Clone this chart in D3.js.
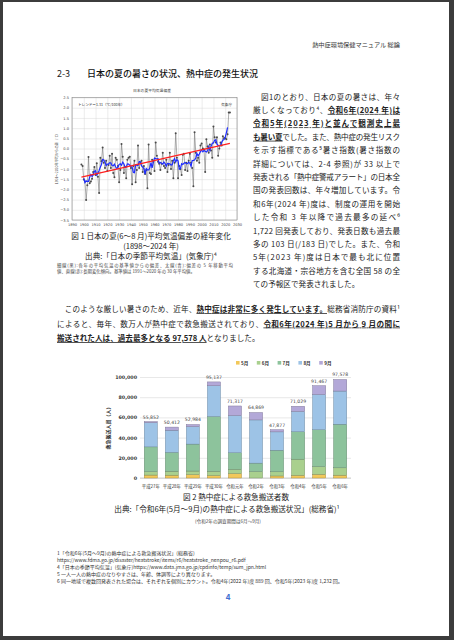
<!DOCTYPE html>
<html>
<head>
<meta charset="utf-8">
<script src="https://cdn.jsdelivr.net/npm/d3@7"></script>
<style>
  html, body { margin: 0; padding: 0; background: #3c3c3c; }
  svg { display: block; font-family: "Noto Sans CJK JP", "Noto Sans", sans-serif; }
  .u { text-decoration: underline; font-weight: 700; }
</style>
</head>
<body>
<svg id="page"></svg>
<script>
// ---- Figure 1 data: Japan summer (JJA) mean temperature anomaly, 1898-2024 ----
const TEMP_YEARS = d3.range(1898, 2025);
const TEMP_ANOM = [
  -0.78, -0.86, -1.52, -1.62, -2.52, -1.80, -0.42, -1.70, -1.62, -1.48,
  -1.15, -0.90, -1.30, -0.72, -1.38, -2.18, -0.45, -0.62, 0.05, -0.70,
  -0.95, -0.60, -1.10, -0.80, -0.35, -0.95, -0.25, -1.20, -1.40, -0.45,
  -0.55, -0.85, -1.65, -1.05, 0.22, -0.40, -1.20, -0.90, -1.45, -0.55,
  -0.45, -0.40, -0.95, -1.75, -0.85, -0.60, -1.65, -1.05, 0.15, -0.95,
  -0.70, -0.60, -1.15, -0.85, -1.25, -1.05, -1.95, 0.20, -1.20, -1.25,
  -0.55, -0.65, -1.10, 0.30, -0.35, -0.65, -0.75, -1.05, -0.75, -0.20,
  -0.85, -0.95, -0.55, -1.15, -0.80, -0.20, -1.00, -0.60, -1.45, -0.70,
  0.75, -0.45, -1.45, -0.85, -1.00, -1.30, -0.30, -0.25, -1.05, -0.70,
  -1.10, -0.60, -0.25, -0.70, -0.95, -1.85, 0.80, -0.20, -0.60, -0.45,
  -0.70, 0.15, 0.25, 0.00, -0.05, -1.15, 0.45, 0.10, -0.20, 0.20,
  -0.10, -0.45, 1.08, 0.55, 0.30, 0.55, -0.35, 0.00, 0.30, 0.15,
  0.60, 0.50, 0.50, 0.45, 0.70, 1.76, 1.76
];
const TREND_ENDS = [-1.40, 0.25];   // straight red line at 1898 and 2024
const TEMP_YTICKS = [2.5, 2.0, 1.5, 1.0, 0.5, 0.0, -0.5, -1.0, -1.5, -2.0, -2.5, -3.0, -3.5];
const TEMP_XTICKS = [1890, 1900, 1910, 1920, 1930, 1940, 1950, 1960, 1970, 1980, 1990, 2000, 2010, 2020, 2030];

// ---- Figure 2 data: heatstroke ambulance transports, May-Sep ----
const FY_LABELS = ['平成27年', '平成28年', '平成29年', '平成30年', '令和元年', '令和2年', '令和3年', '令和4年', '令和5年', '令和6年'];
const MONTHS = ['5月', '6月', '7月', '8月', '9月'];
const MAY = [2904, 2788, 3401, 2504, 4448, 0, 2012, 2668, 3647, 2799];
const JUN = [3357, 3950, 3481, 4151, 4151, 6336, 4122, 15969, 7584, 7275];
const JUL = [24567, 18671, 26702, 54220, 16431, 8388, 21372, 27190, 36549, 43195];
const AUG = [23925, 21934, 17302, 30410, 36755, 42789, 18167, 20029, 34835, 32806];
const SEP = [1099, 3069, 2098, 3852, 9532, 7356, 2204, 5173, 8852, 11503];
const TOTALS = [55852, 50412, 52984, 95137, 71317, 64869, 47877, 71029, 91467, 97578];
const BAR_YTICKS = [0, 20000, 40000, 60000, 80000, 100000];

const MONTH_COLORS = ['#f2c85a', '#a9d08e', '#8dc39c', '#9dc3e6', '#b3a8d8'];

const svg = d3.select('#page').attr('width', 454).attr('height', 640);
svg.append('rect').attr('x', 3).attr('y', 2).attr('width', 446).attr('height', 634).attr('fill', '#fff');

// text line helper: parts = [[text, bold/underline?], ...]
function textLine(x, y, parts, size, opts = {}) {
  const t = svg.append('text')
    .attr('x', x).attr('y', y)
    .attr('font-size', size)
    .attr('fill', opts.fill || '#222')
    .attr('text-anchor', opts.anchor || 'start');
  if (opts.width) t.attr('textLength', opts.width).attr('lengthAdjust', 'spacing');
  if (opts.weight) t.attr('font-weight', opts.weight);
  parts.forEach(p => {
    const s = t.append('tspan').text(p[0]);
    if (p[1]) s.attr('class', 'u');
  });
  return t;
}

// header + section title
textLine(400, 47, [['熱中症環境保健マニュアル 総論']], 6.2, {anchor: 'end', fill: '#333'});
textLine(57, 76.5, [['2-3']], 9, {fill: '#222'});
textLine(87, 76.5, [['日本の夏の暑さの状況、熱中症の発生状況']], 9, {fill: '#111', weight: 500});

// ================= Figure 1 =================
const x1 = d3.scaleLinear([1890, 2030], [72, 237]);
const y1 = d3.scaleLinear([-3.5, 2.5], [220, 97.5]);
const g1 = svg.append('g');

g1.append('text').attr('x', 152).attr('y', 92).attr('font-size', 3.8)
  .attr('text-anchor', 'middle').attr('fill', '#333').text('日本の夏平均気温偏差');

g1.append('g').attr('transform', 'translate(72,0)')
  .call(d3.axisLeft(y1).tickValues(TEMP_YTICKS).tickSize(-(237 - 72)).tickPadding(3).tickFormat(d3.format('.1f')))
  .call(g => g.select('.domain').remove())
  .call(g => g.selectAll('line').attr('stroke', '#d8d8d8').attr('stroke-width', 0.5))
  .call(g => g.selectAll('text').attr('font-size', 3.6).attr('fill', '#444').attr('font-family', 'DejaVu Sans'));

g1.append('g').attr('transform', 'translate(0,220)')
  .call(d3.axisBottom(x1).tickValues(TEMP_XTICKS).tickSize(-(220 - 97.5)).tickPadding(3).tickFormat(d3.format('d')))
  .call(g => g.select('.domain').remove())
  .call(g => g.selectAll('line').attr('stroke', '#d8d8d8').attr('stroke-width', 0.5))
  .call(g => g.selectAll('text').attr('font-size', 3.6).attr('fill', '#444').attr('font-family', 'DejaVu Sans'));

g1.append('rect').attr('x', 72).attr('y', 97.5).attr('width', 165).attr('height', 122.5)
  .attr('fill', 'none').attr('stroke', '#888').attr('stroke-width', 0.6);

g1.append('text').attr('transform', 'translate(58,158) rotate(-90)')
  .attr('font-size', 3.4).attr('text-anchor', 'middle').attr('fill', '#444')
  .text('1991〜2020年平均からの差（℃）');

g1.append('text').attr('x', 78).attr('y', 105.5).attr('font-size', 3.6).attr('fill', '#333')
  .text('トレンド＝1.31（℃/100年）');
g1.append('text').attr('x', 232).attr('y', 105.5).attr('font-size', 3.6).attr('fill', '#333')
  .attr('text-anchor', 'end').text('気象庁');

const tempRows = TEMP_YEARS.map((yr, i) => ({yr, v: TEMP_ANOM[i]}));

g1.append('path').datum(tempRows)
  .attr('fill', 'none').attr('stroke', '#6a6a6a').attr('stroke-width', 0.55)
  .attr('d', d3.line().x(d => x1(d.yr)).y(d => y1(d.v)));

g1.selectAll('circle.pt').data(tempRows).enter().append('circle')
  .attr('class', 'pt')
  .attr('cx', d => x1(d.yr)).attr('cy', d => y1(d.v)).attr('r', 1)
  .attr('fill', '#4a4a4a');

// 5-year running mean of the plotted anomalies (blue)
const runMean = tempRows.slice(2, -2).map((d, i) => ({yr: d.yr, v: d3.mean(TEMP_ANOM.slice(i, i + 5))}));
g1.append('path').datum(runMean)
  .attr('fill', 'none').attr('stroke', '#1f2dff').attr('stroke-width', 1.2)
  .attr('d', d3.line().x(d => x1(d.yr)).y(d => y1(d.v)));

g1.append('line')
  .attr('x1', x1(TEMP_YEARS[0])).attr('y1', y1(TREND_ENDS[0]))
  .attr('x2', x1(TEMP_YEARS[TEMP_YEARS.length - 1])).attr('y2', y1(TREND_ENDS[1]))
  .attr('stroke', '#ff2020').attr('stroke-width', 1.3);

// Figure 1 captions
textLine(151, 239, [['図 1 日本の夏(6～8 月)平均気温偏差の経年変化']], 7.6, {anchor: 'middle'});
textLine(151, 249, [['(1898～2024 年)']], 7.6, {anchor: 'middle'});
textLine(151, 259, [['出典:「日本の季節平均気温」(気象庁)⁴']], 7.6, {anchor: 'middle'});
textLine(57, 266.5, [['細線(黒):各年の平均気温の基準値からの偏差、太線(青):偏差の 5 年移動平均']], 4.4, {fill: '#444', width: 176});
textLine(57, 273, [['値、直線(赤):長期変化傾向。基準値は 1991～2020 年の 30 年平均値。']], 4.4, {fill: '#444'});

// ================= Right column text =================
const RIGHT_LINES = [
  [['　図1のとおり、日本の夏の暑さは、年々']],
  [['厳しくなっており⁴、'], ['令和6年(2024 年)は', 1]],
  [['令和5年(2023 年)と並んで観測史上最', 1]],
  [['も暑い夏', 1], ['でした。また、熱中症の発生リスク']],
  [['を示す指標である⁵暑さ指数(暑さ指数の']],
  [['詳細については、2-4 参照)が 33 以上で']],
  [['発表される「熱中症警戒アラート」の日本全']],
  [['国の発表回数は、年々増加しています。令']],
  [['和6年(2024 年)度は、制度の運用を開始']],
  [['した令和 3 年以降で過去最多の延べ⁶']],
  [['1,722 回発表しており、発表日数も過去最']],
  [['多の 103 日(/183 日)でした。また、令和']],
  [['5年(2023 年)度は日本で最も北に位置']],
  [['する北海道・宗谷地方を含む全国 58 の全']],
  [['ての予報区で発表されました。']]
];
RIGHT_LINES.forEach((parts, i) => {
  const last = i === RIGHT_LINES.length - 1;
  textLine(253, 99.5 + i * 13.4, parts, 7.6, last ? {} : {width: 147});
});

// paragraph 2
textLine(57, 312, [['　このような厳しい暑さのため、近年、'], ['熱中症は非常に多く発生しています。', 1], ['総務省消防庁の資料¹']], 7.6, {width: 343});
textLine(57, 326.5, [['によると、毎年、数万人が熱中症で救急搬送されており、'], ['令和6年(2024 年)5 月から 9 月の間に', 1]], 7.6, {width: 343});
textLine(57, 341, [['搬送された人は、過去最多となる 97,578 人', 1], ['となりました。']], 7.6);

// ================= Figure 2 =================
const x2 = d3.scaleBand(FY_LABELS, [140, 351]).paddingInner(0.37).paddingOuter(0.2);
const y2 = d3.scaleLinear([0, 100000], [478, 377]);
const g2 = svg.append('g');

const barRows = FY_LABELS.map((fy, i) => ({fy, '5月': MAY[i], '6月': JUN[i], '7月': JUL[i], '8月': AUG[i], '9月': SEP[i]}));
const stacked = d3.stack().keys(MONTHS)(barRows);

g2.append('g').attr('transform', 'translate(140,0)')
  .call(d3.axisLeft(y2).tickValues(BAR_YTICKS).tickSize(-(351 - 140)).tickPadding(3).tickFormat(d3.format(',')))
  .call(g => g.select('.domain').remove())
  .call(g => g.selectAll('line').attr('stroke', '#d9d9d9').attr('stroke-width', 0.6))
  .call(g => g.selectAll('text').attr('font-size', 4.8).attr('fill', '#333').attr('font-weight', 700).attr('font-family', 'DejaVu Sans'));

g2.append('line').attr('x1', 140).attr('x2', 351).attr('y1', 478).attr('y2', 478)
  .attr('stroke', '#bfbfbf').attr('stroke-width', 0.7);

g2.selectAll('g.series').data(stacked).enter().append('g')
  .attr('class', 'series')
  .attr('fill', (d, i) => MONTH_COLORS[i])
  .attr('stroke', (d, i) => d3.color(MONTH_COLORS[i]).darker(1.2))
  .attr('stroke-width', 0.4)
  .selectAll('rect').data(d => d).enter().append('rect')
  .attr('x', d => x2(d.data.fy))
  .attr('y', d => y2(d[1]))
  .attr('width', x2.bandwidth())
  .attr('height', d => Math.max(0, y2(d[0]) - y2(d[1])));

g2.selectAll('text.tot').data(FY_LABELS).enter().append('text')
  .attr('class', 'tot')
  .attr('x', d => x2(d) + x2.bandwidth() / 2)
  .attr('y', (d, i) => y2(TOTALS[i]) - 3)
  .attr('text-anchor', 'middle').attr('font-size', 4.6).attr('fill', '#444')
  .attr('font-family', 'DejaVu Sans')
  .text((d, i) => d3.format(',')(TOTALS[i]));

g2.selectAll('text.fy').data(FY_LABELS).enter().append('text')
  .attr('class', 'fy')
  .attr('x', d => x2(d) + x2.bandwidth() / 2)
  .attr('y', 487.5)
  .attr('text-anchor', 'middle').attr('font-size', 4.4).attr('fill', '#333')
  .text(d => d);

g2.append('text').attr('transform', 'translate(110,427) rotate(-90)')
  .attr('font-size', 5).attr('font-weight', 700).attr('text-anchor', 'middle').attr('fill', '#333')
  .text('救急搬送人員（人）');

const legend = g2.selectAll('g.leg').data(MONTHS).enter().append('g')
  .attr('class', 'leg')
  .attr('transform', (d, i) => `translate(${236 + i * 20.8},363)`);
legend.append('rect').attr('x', 0).attr('y', -2).attr('width', 3.6).attr('height', 3.6)
  .attr('fill', (d, i) => MONTH_COLORS[i]);
legend.append('text').attr('x', 5).attr('y', 1.7).attr('font-size', 4.6).attr('font-weight', 700)
  .attr('fill', '#333').text(d => d);

// Figure 2 captions
textLine(236, 500, [['図 2 熱中症による救急搬送者数']], 7.6, {anchor: 'middle'});
textLine(227, 512, [['出典:「令和6年(5月～9月)の熱中症による救急搬送状況」(総務省)¹']], 7.6, {anchor: 'middle'});
textLine(228, 523, [['(令和2年の調査期間は6月～9月)']], 4.6, {anchor: 'middle', fill: '#444'});

// footnotes
const FOOTNOTES = [
  '1「令和6年(5月～9月)の熱中症による救急搬送状況」(総務省)',
  'https://www.fdma.go.jp/disaster/heatstroke/items/r6/heatstroke_nenpou_r6.pdf',
  '4「日本の季節平均気温」(気象庁)https://www.data.jma.go.jp/cpdinfo/temp/sum_jpn.html',
  '5 一人一人の熱中症のなりやすさは、年齢、体調等により異なります。',
  '6 同一地域で複数回発表された場合は、それぞれを個別にカウント。令和4年(2022 年)度 889 回、令和5年(2023 年)度 1,232 回。'
];
FOOTNOTES.forEach((s, i) => textLine(57, 555 + i * 7, [[s]], 5, {fill: '#333'}));

// page number
textLine(228, 600, [['4']], 8, {anchor: 'middle', fill: '#3f6fd1', weight: 700});
</script>
</body>
</html>
